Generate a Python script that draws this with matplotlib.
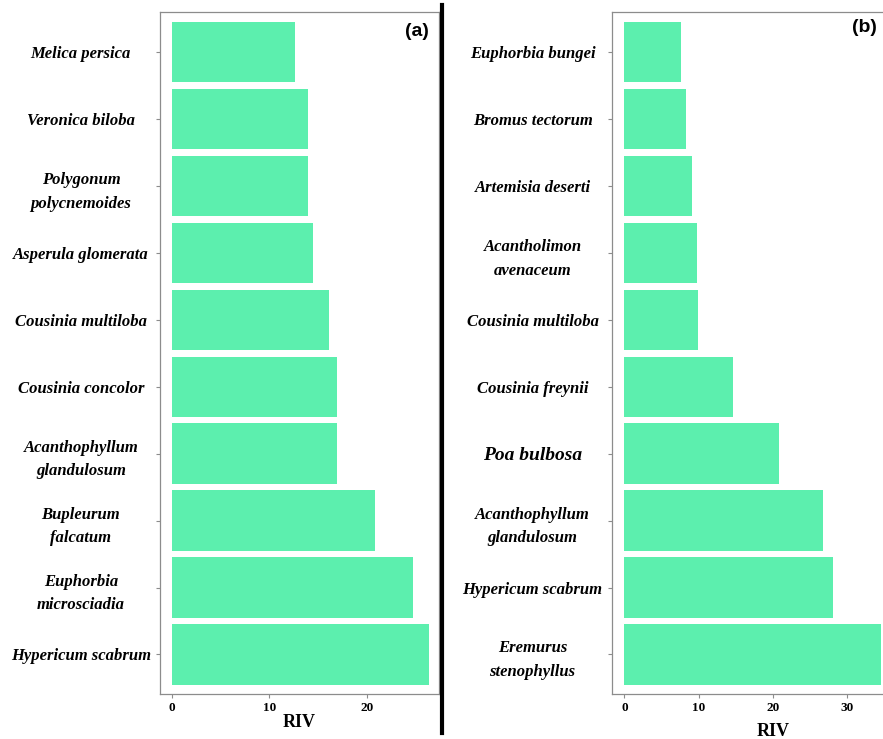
import matplotlib.pyplot as plt
from matplotlib.lines import Line2D

# panel (a)
species_a = ["Melica persica", "Veronica biloba", "Polygonum\npolycnemoides",
             "Asperula glomerata", "Cousinia multiloba", "Cousinia concolor",
             "Acanthophyllum\nglandulosum", "Bupleurum\nfalcatum",
             "Euphorbia\nmicrosciadia", "Hypericum scabrum"]
riv_a = [12.6, 14.0, 14.0, 14.5, 16.1, 16.9, 16.9, 20.8, 24.7, 26.4]

# panel (b)
species_b = ["Euphorbia bungei", "Bromus tectorum", "Artemisia deserti",
             "Acantholimon\navenaceum", "Cousinia multiloba", "Cousinia freynii",
             "Poa bulbosa", "Acanthophyllum\nglandulosum", "Hypericum scabrum",
             "Eremurus\nstenophyllus"]
riv_b = [7.6, 8.3, 9.1, 9.8, 9.9, 14.6, 20.8, 26.7, 28.1, 34.6]

BAR_COLOR = "#5cefae"
SPINE_COLOR = "#8c8c8c"
SERIF = "Liberation Serif"

fig = plt.figure(figsize=(8.83, 7.39), dpi=100)


def draw_panel(ax, names, values, xlim, xticks, tag, tag_xy, xlabel_xy):
    pos = list(range(len(names)))
    ax.barh(pos, values, height=0.9, color=BAR_COLOR, edgecolor="none")
    ax.set_ylim(len(names) - 0.41, -0.6)
    ax.set_xlim(*xlim)
    ax.set_yticks(pos)
    ax.set_yticklabels(names, fontfamily=SERIF, fontweight="bold",
                       fontstyle="italic", fontsize=12, ha="center")
    for lab in ax.get_yticklabels():
        lab.set_multialignment("center")
        lab.set_linespacing(1.65)
    ax.set_xticks(xticks)
    ax.set_xticklabels([str(t) for t in xticks], fontfamily=SERIF,
                       fontweight="bold", fontsize=9.5)
    ax.tick_params(axis="both", length=3, width=0.8, color=SPINE_COLOR)
    ax.tick_params(axis="y", pad=54)
    ax.tick_params(axis="x", pad=3)
    for sp in ax.spines.values():
        sp.set_color(SPINE_COLOR)
        sp.set_linewidth(0.9)
    ax.set_xlabel("RIV", fontfamily=SERIF, fontweight="bold", fontsize=13)
    ax.xaxis.set_label_coords(*xlabel_xy)
    ax.text(tag_xy[0], tag_xy[1], tag, transform=fig.transFigure,
            fontfamily="Liberation Sans", fontweight="bold", fontsize=14,
            ha="center", va="center")


ax_a = fig.add_axes([160 / 883, 45 / 739, 279 / 883, 682.3 / 739])
draw_panel(ax_a, species_a, riv_a, (-1.2, 27.4), [0, 10, 20], "(a)",
           (417 / 883, 1 - 32 / 739), (0.5, -0.03))

ax_b = fig.add_axes([611.7 / 883, 45 / 739, 282.3 / 883, 682.3 / 739])
draw_panel(ax_b, species_b, riv_b, (-1.7, 36.3), [0, 10, 20, 30], "(b)",
           (864 / 883, 1 - 28 / 739), (0.571, -0.042))

# Poa bulbosa is set larger in the original
for lab in ax_b.get_yticklabels():
    if lab.get_text() == "Poa bulbosa":
        lab.set_fontsize(14)

# black divider between the panels
fig.add_artist(Line2D([442 / 883, 442 / 883], [1 - 5 / 739, 1 - 733 / 739],
                      transform=fig.transFigure, color="black", linewidth=3))

fig.savefig("out.png", dpi=100)
